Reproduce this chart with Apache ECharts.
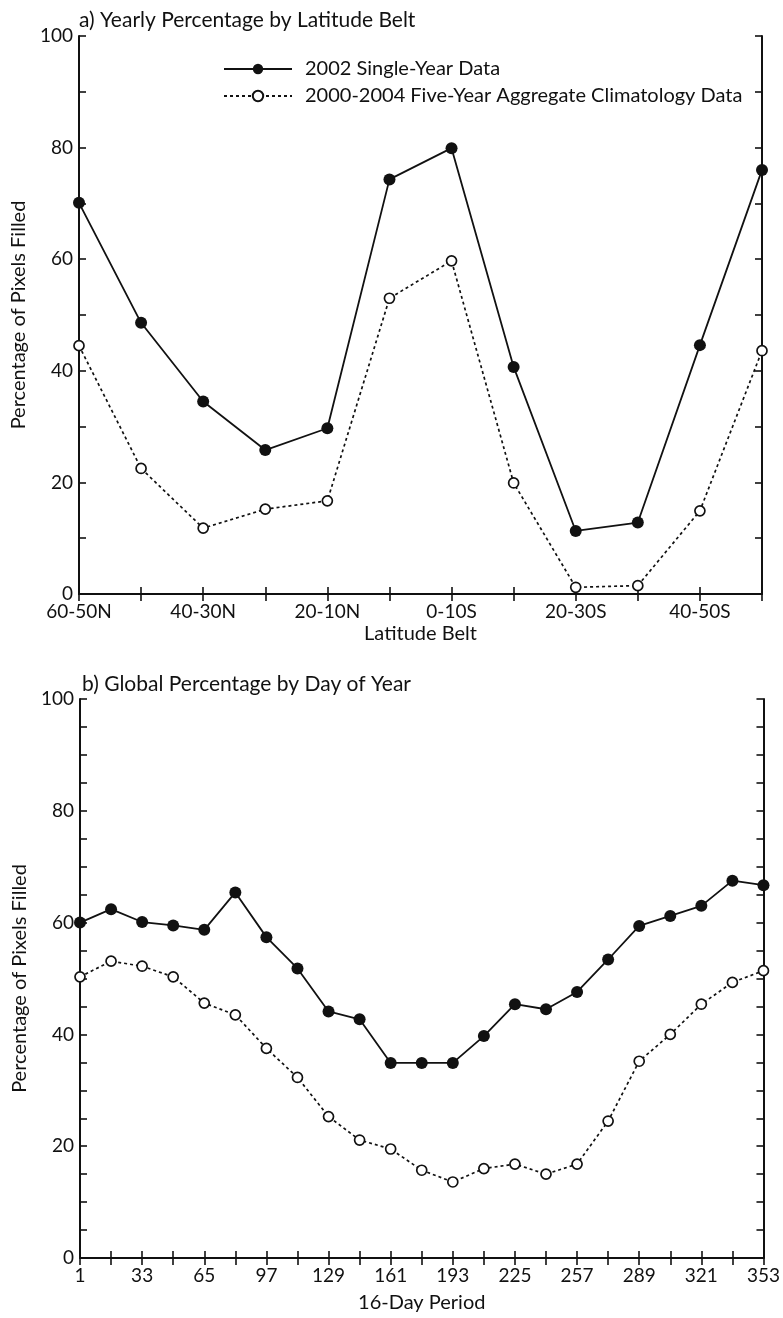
<!DOCTYPE html>
<html>
<head>
<meta charset="utf-8">
<script src="https://cdn.jsdelivr.net/npm/echarts@6/dist/echarts.min.js"></script>
<style>
  html, body { margin: 0; background: #fff; }
  #main { width: 783px; height: 1318px; }
</style>
</head>
<body>
<div id="main"></div>
<script>
// panel a) latitude belts
var belts = ['60-50N', '50-40N', '40-30N', '30-20N', '20-10N', '10-0N',
  '0-10S', '10-20S', '20-30S', '30-40S', '40-50S', '50-60S'];
var belt2002 = [70.1, 48.6, 34.5, 25.8, 29.7, 74.3, 79.9, 40.7, 11.3, 12.8, 44.6, 76.0];
var beltClim = [44.5, 22.5, 11.8, 15.2, 16.7, 53.0, 59.7, 19.9, 1.2, 1.5, 14.9, 43.6];

// panel b) 16-day periods
var days = ['1', '17', '33', '49', '65', '81', '97', '113', '129', '145', '161', '177',
  '193', '209', '225', '241', '257', '273', '289', '305', '321', '337', '353'];
var day2002 = [60.0, 62.4, 60.1, 59.5, 58.7, 65.4, 57.4, 51.8, 44.1, 42.7, 34.9, 34.9,
  34.9, 39.7, 45.4, 44.5, 47.6, 53.4, 59.4, 61.2, 63.0, 67.5, 66.7];
var dayClim = [50.3, 53.1, 52.2, 50.3, 45.6, 43.5, 37.5, 32.3, 25.3, 21.1, 19.5, 15.7,
  13.6, 16.0, 16.8, 15.0, 16.8, 24.5, 35.2, 40.0, 45.4, 49.3, 51.4];

var name2002 = '2002 Single-Year Data';
var nameClim = '2000-2004 Five-Year Aggregate Climatology Data';

var font = 'Lato, "Open Sans", sans-serif';
var ink = '#111';

var myChart = echarts.init(document.getElementById('main'));

// bottom/left axis with labels
function catAxis(grid, data, name, gap) {
  return {
    type: 'category', gridIndex: grid, data: data, boundaryGap: false,
    name: name, nameLocation: 'middle', nameGap: gap,
    nameTextStyle: { color: ink, fontSize: 20, fontFamily: font },
    axisLine: { lineStyle: { color: ink, width: 2 } },
    axisTick: { inside: true, length: 7, interval: 0, lineStyle: { color: ink, width: 1.6 } },
    axisLabel: { interval: 1, color: ink, fontSize: 19, fontFamily: font, margin: 8 },
    splitLine: { show: false }
  };
}
// mirrored top axis, ticks only
function topAxis(grid, data) {
  return {
    type: 'category', gridIndex: grid, data: data, boundaryGap: false, position: 'top',
    axisLine: { lineStyle: { color: ink, width: 1.5 } },
    axisTick: { inside: true, length: 7, interval: 0, lineStyle: { color: ink, width: 1.6 } },
    axisLabel: { show: false }, splitLine: { show: false }
  };
}
function valAxis(grid, step) {
  return {
    type: 'value', gridIndex: grid, min: 0, max: 100, interval: step,
    name: 'Percentage of Pixels Filled', nameLocation: 'middle', nameGap: 47,
    nameTextStyle: { color: ink, fontSize: 20, fontFamily: font },
    axisLine: { show: true, lineStyle: { color: ink, width: 2 } },
    axisTick: { show: true, inside: true, length: 7, lineStyle: { color: ink, width: 1.6 } },
    axisLabel: {
      color: ink, fontSize: 19, fontFamily: font, margin: 6,
      formatter: function (v) { return v % 20 === 0 ? v : ''; }
    },
    splitLine: { show: false }
  };
}
function rightAxis(grid, step) {
  return {
    type: 'value', gridIndex: grid, min: 0, max: 100, interval: step, position: 'right',
    axisLine: { show: true, lineStyle: { color: ink, width: 2 } },
    axisTick: { show: true, inside: true, length: 7, lineStyle: { color: ink, width: 1.6 } },
    axisLabel: { show: false }, splitLine: { show: false }
  };
}
function solid(name, x, y, data) {
  return {
    name: name, type: 'line', xAxisIndex: x, yAxisIndex: y, data: data,
    symbol: 'circle', symbolSize: 12,
    itemStyle: { color: ink },
    lineStyle: { color: ink, width: 1.8 }
  };
}
function dotted(name, x, y, data) {
  return {
    name: name, type: 'line', xAxisIndex: x, yAxisIndex: y, data: data,
    symbol: 'circle', symbolSize: 10,
    itemStyle: { color: '#fff', borderColor: ink, borderWidth: 1.7 },
    lineStyle: { color: ink, width: 1.7, type: [3, 3] }
  };
}

myChart.setOption({
  animation: false,
  backgroundColor: '#fff',
  title: [
    { text: 'a) Yearly Percentage by Latitude Belt', left: 74, top: 5,
      textStyle: { color: ink, fontSize: 21, fontWeight: 'normal', fontFamily: font } },
    { text: 'b) Global Percentage by Day of Year', left: 77, top: 669,
      textStyle: { color: ink, fontSize: 21, fontWeight: 'normal', fontFamily: font } }
  ],
  legend: {
    orient: 'vertical', left: 223, top: 59, padding: 0,
    itemWidth: 68, itemHeight: 13, itemGap: 7,
    textStyle: { color: ink, fontSize: 20, fontFamily: font, padding: [0, 0, 0, 8] },
    data: [name2002, nameClim]
  },
  grid: [
    { left: 79, right: 21, top: 36, height: 558 },
    { left: 80, right: 18, top: 699, height: 559 }
  ],
  xAxis: [
    catAxis(0, belts, 'Latitude Belt', 30),
    topAxis(0, belts),
    catAxis(1, days, '16-Day Period', 35),
    topAxis(1, days)
  ],
  yAxis: [
    valAxis(0, 10),
    rightAxis(0, 10),
    valAxis(1, 5),
    rightAxis(1, 5)
  ],
  series: [
    solid(name2002, 0, 0, belt2002),
    dotted(nameClim, 0, 0, beltClim),
    solid(name2002, 2, 2, day2002),
    dotted(nameClim, 2, 2, dayClim)
  ]
});
</script>
</body>
</html>
